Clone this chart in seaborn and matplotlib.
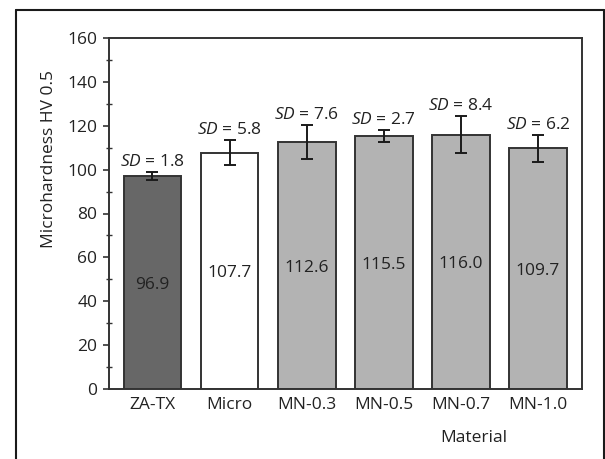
import matplotlib
matplotlib.use("Agg")
import matplotlib.pyplot as plt
from matplotlib.lines import Line2D
from matplotlib.ticker import MultipleLocator
import seaborn as sns
import numpy as np
import pandas as pd

materials = ["ZA-TX", "Micro", "MN-0.3", "MN-0.5", "MN-0.7", "MN-1.0"]
hardness = [96.9, 107.7, 112.6, 115.5, 116.0, 109.7]
sd_values = [1.8, 5.8, 7.6, 2.7, 8.4, 6.2]
bar_colors = ["#676767", "#ffffff", "#b3b3b3", "#b3b3b3", "#b3b3b3", "#b3b3b3"]

sns.set_theme(style="white")
plt.rcParams["font.family"] = ["Open Sans", "DejaVu Sans"]
plt.rcParams["mathtext.fontset"] = "custom"
plt.rcParams["mathtext.rm"] = "Open Sans"
plt.rcParams["mathtext.it"] = "Open Sans:italic"
FS = 12.5
TXT = "#222222"

df = pd.DataFrame({"Material": materials, "HV": hardness, "SD": sd_values})

W, H = 605, 459
fig = plt.figure(figsize=(W / 100, H / 100), dpi=100)
ax = fig.add_axes([108.5 / W, 1 - 389 / H, (582 - 108.5) / W, (389 - 38) / H])

sns.barplot(data=df, x="Material", y="HV", hue="Material", palette=bar_colors,
            legend=False, width=0.75, edgecolor="#333333", linewidth=1.4,
            errorbar=None, ax=ax)

xpos = np.arange(len(materials))
ax.errorbar(xpos, df["HV"], yerr=df["SD"], fmt="none", ecolor="#1a1a1a",
            elinewidth=1.4, capsize=4.4, capthick=1.4, zorder=5)

for i, (v, s) in enumerate(zip(hardness, sd_values)):
    ax.text(i, v / 2 - 1.2, f"{v:.1f}", ha="center", va="center",
            fontsize=FS, color=TXT)
    ax.annotate(r"$\it{SD}$" + f" = {s:.1f}", xy=(i, v + s), xytext=(0, 2),
                textcoords="offset pixels", ha="center", va="bottom",
                fontsize=FS, color=TXT)

ax.set_xlim(-0.57, len(materials) - 1 + 0.57)
ax.set_ylim(0, 160)
ax.yaxis.set_major_locator(MultipleLocator(20))
ax.yaxis.set_minor_locator(MultipleLocator(10))
ax.tick_params(axis="y", which="major", direction="out", length=4, width=1.2,
               color="#333333", pad=4, labelsize=FS, labelcolor=TXT, left=True)
ax.tick_params(axis="y", which="minor", direction="inout", length=4, width=1.0,
               color="#333333", left=True)
ax.tick_params(axis="x", length=0, pad=6, labelsize=FS, labelcolor=TXT)

for sp in ax.spines.values():
    sp.set_visible(True)
    sp.set_color("#333333")
    sp.set_linewidth(1.4)

ax.set_ylabel("Microhardness HV 0.5", fontsize=FS, color=TXT)
ax.yaxis.label.set_va("center")
ax.yaxis.set_label_coords(-0.126, 0.655)
ax.set_xlabel("Material", fontsize=FS, color=TXT)
ax.xaxis.label.set_va("center")
ax.xaxis.set_label_coords((474 - 108.5) / (582 - 108.5), (389 - 438) / 351)

# outer frame (left, top, right)
bc = "#1a1a1a"
lw = 1.5
xl, xr, yt = 16 / W, 604 / W, 1 - 10 / H
fig.add_artist(Line2D([xl, xl], [0, yt], transform=fig.transFigure, color=bc, lw=lw))
fig.add_artist(Line2D([xl, xr], [yt, yt], transform=fig.transFigure, color=bc, lw=lw))
fig.add_artist(Line2D([xr, xr], [0, yt], transform=fig.transFigure, color=bc, lw=lw))

fig.savefig("out.png", dpi=100)
